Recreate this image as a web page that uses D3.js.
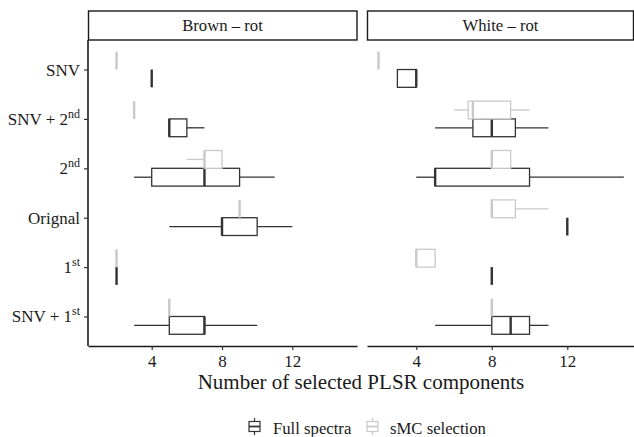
<!DOCTYPE html>
<html>
<head>
<meta charset="utf-8">
<script src="https://cdn.jsdelivr.net/npm/d3@7"></script>
<style>
  body { margin: 0; background: #fff; }
  svg, svg text { font-family: "Liberation Serif", "DejaVu Serif", serif; }
</style>
</head>
<body>
<script>
// categories on the y axis, '^' marks a superscript
const categories = ['SNV', 'SNV + 2^nd', '2^nd', 'Orignal', '1^st', 'SNV + 1^st'];
const panels = ['Brown \u2013 rot', 'White \u2013 rot'];
const groups = ['sMC selection', 'Full spectra'];
const xTicks = [4, 8, 12];

// five number summaries [min, q1, median, q3, max] per category
const brownFull = [[4,4,4,4,4], [5,5,5,6,7], [3,4,7,9,11], [5,8,8,10,12], [2,2,2,2,2], [3,5,7,7,10]];
const brownSmc  = [[2,2,2,2,2], [3,3,3,3,3], [6,7,7,8,8], [9,9,9,9,9], [2,2,2,2,2], [5,5,5,5,5]];
const whiteFull = [[3,3,4,4,4], [5,7,8,9.25,11], [4,5,5,10,15], [12,12,12,12,12], [8,8,8,8,8], [5,8,9,10,11]];
const whiteSmc  = [[2,2,2,2,2], [6,6.75,7,9,10], [8,8,8,9,9], [8,8,8,9.25,11], [4,4,4,5,5], [8,8,8,8,8]];

// free x scales per facet
const xDomains = [[0.375, 15.68], [1.39, 15.64]];

const width = 634, height = 437;
const margin = {top: 40, bottom: 346};
const panelX = [[88, 357], [367, 636]];
const colors = {'Full spectra': '#333333', 'sMC selection': '#c9c9c9'};
const serif = '"Liberation Serif", "DejaVu Serif", serif';

const data = [
  {panel: panels[0], group: 'Full spectra', stats: brownFull},
  {panel: panels[0], group: 'sMC selection', stats: brownSmc},
  {panel: panels[1], group: 'Full spectra', stats: whiteFull},
  {panel: panels[1], group: 'sMC selection', stats: whiteSmc}
];

const svg = d3.select('body').append('svg')
  .attr('width', width)
  .attr('height', height);

// y: discrete with ggplot style 0.6 expansion
const yScale = d3.scalePoint()
  .domain(categories)
  .range([margin.top + 0.6 * 49.2, margin.bottom - 0.6 * 49.2]);

const dodge = d3.scaleBand()
  .domain(groups)
  .range([-17.8, 17.8]);

function addLabel(sel, label) {
  const parts = label.split('^');
  sel.append('tspan').text(parts[0]);
  if (parts[1]) {
    sel.append('tspan')
      .attr('font-size', 12)
      .attr('dy', -7)
      .text(parts[1]);
  }
}

panels.forEach(function(p, i) {
  const xScale = d3.scaleLinear().domain(xDomains[i]).range(panelX[i]);
  const g = svg.append('g');

  // strip
  svg.append('rect')
    .attr('x', panelX[i][0] + 0.5)
    .attr('y', 11)
    .attr('width', Math.min(panelX[i][1], 633.5) - panelX[i][0] - 0.5)
    .attr('height', 29)
    .attr('fill', '#fff')
    .attr('stroke', '#1a1a1a')
    .attr('stroke-width', 1.4);

  svg.append('text')
    .attr('x', (panelX[i][0] + Math.min(panelX[i][1], 634)) / 2)
    .attr('y', 31)
    .attr('text-anchor', 'middle')
    .attr('font-size', 16.7)
    .attr('fill', '#1a1a1a')
    .text(p);

  // boxes
  data.filter(d => d.panel === p).forEach(function(s) {
    const col = colors[s.group];
    s.stats.forEach(function(v, j) {
      const yc = yScale(categories[j]) + dodge(s.group);
      const ym = yc + dodge.bandwidth() / 2;
      const b = g.append('g').attr('stroke', col).attr('fill', 'none');
      // whiskers
      if (v[0] < v[1]) {
        b.append('line').attr('x1', xScale(v[0])).attr('x2', xScale(v[1]))
          .attr('y1', ym).attr('y2', ym).attr('stroke-width', 1.3);
      }
      if (v[4] > v[3]) {
        b.append('line').attr('x1', xScale(v[3])).attr('x2', xScale(v[4]))
          .attr('y1', ym).attr('y2', ym).attr('stroke-width', 1.3);
      }
      // box
      b.append('rect')
        .attr('x', xScale(v[1]))
        .attr('y', yc)
        .attr('width', xScale(v[3]) - xScale(v[1]))
        .attr('height', dodge.bandwidth())
        .attr('fill', '#fff')
        .attr('stroke-width', 1.3);
      // median
      b.append('line').attr('x1', xScale(v[2])).attr('x2', xScale(v[2]))
        .attr('y1', yc).attr('y2', yc + dodge.bandwidth())
        .attr('stroke-width', 2.4);
    });
  });

  // x axis
  const xAxis = d3.axisBottom(xScale).tickValues(xTicks).tickSize(4).tickSizeOuter(0);
  const ax = svg.append('g')
    .attr('transform', `translate(0,${margin.bottom})`)
    .call(xAxis)
    .attr('font-family', serif)
    .attr('font-size', 17);
  ax.select('.domain').attr('stroke', '#1a1a1a').attr('stroke-width', 1.6);
  ax.selectAll('.tick line').attr('stroke', '#333').attr('stroke-width', 1.2);
  ax.selectAll('.tick text')
    .attr('fill', '#1a1a1a')
    .attr('dy', 0)
    .attr('y', 20.5);
});

// y axis (left panel only)
const yAxis = d3.axisLeft(yScale).tickSize(4).tickSizeOuter(0).tickFormat('');
const ay = svg.append('g')
  .attr('transform', `translate(${panelX[0][0]},0)`)
  .call(yAxis)
  .attr('font-family', serif)
  .attr('font-size', 17);
ay.select('.domain')
  .attr('d', `M0,${margin.top}V${margin.bottom}`)
  .attr('stroke', '#1a1a1a').attr('stroke-width', 1.6);
ay.selectAll('.tick line').attr('stroke', '#333').attr('stroke-width', 1.2);
ay.selectAll('.tick text').remove();
ay.selectAll('.tick').each(function(d) {
  const t = d3.select(this).append('text')
    .attr('x', -8)
    .attr('y', 5.5)
    .attr('text-anchor', 'end')
    .attr('fill', '#1a1a1a');
  addLabel(t, d);
});

// x title
svg.append('text')
  .attr('x', 361)
  .attr('y', 389)
  .attr('text-anchor', 'middle')
  .attr('font-size', 21)
  .attr('fill', '#1a1a1a')
  .text('Number of selected PLSR components');

// legend
const legendItems = ['Full spectra', 'sMC selection'];
const legendX = [248, 366];
legendItems.forEach(function(name, i) {
  const lg = svg.append('g')
    .attr('transform', `translate(${legendX[i]},0)`)
    .attr('stroke', colors[name]);
  lg.append('line').attr('x1', 6.5).attr('x2', 6.5).attr('y1', 418).attr('y2', 435).attr('stroke-width', 1.2);
  lg.append('rect').attr('x', 1).attr('y', 421.5).attr('width', 11).attr('height', 10)
    .attr('fill', '#fff').attr('stroke-width', 1.2);
  lg.append('line').attr('x1', 1).attr('x2', 12).attr('y1', 426.5).attr('y2', 426.5).attr('stroke-width', 1.8);
  svg.append('text')
    .attr('x', legendX[i] + (i === 0 ? 25 : 24))
    .attr('y', 434)
    .attr('font-size', 16.7)
    .attr('fill', '#1a1a1a')
    .text(name);
});
</script>
</body>
</html>
